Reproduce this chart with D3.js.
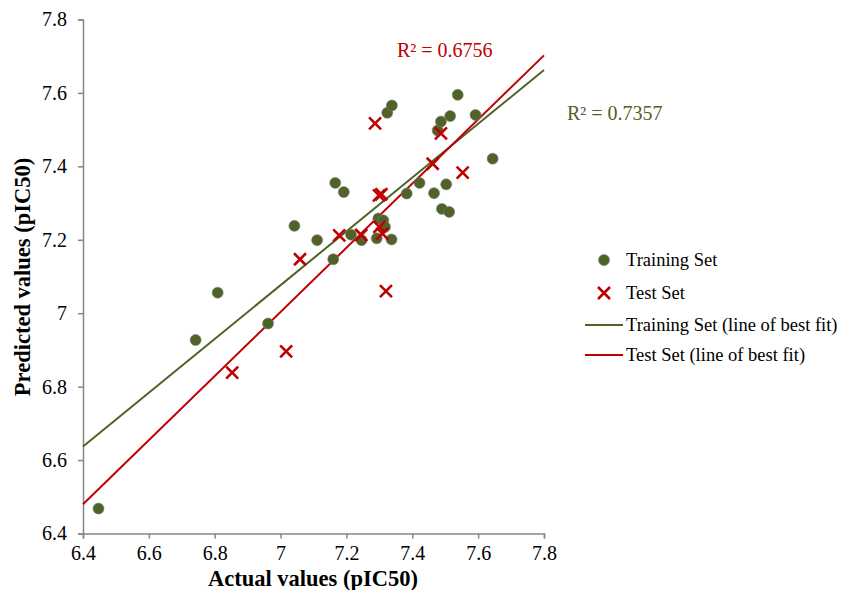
<!DOCTYPE html>
<html>
<head>
<meta charset="utf-8">
<script src="https://cdn.jsdelivr.net/npm/d3@7/dist/d3.min.js"></script>
<style>
  body { margin: 0; background: #fff; }
  svg { display: block; }
  text { font-family: "Liberation Serif", "Times New Roman", serif; }
</style>
</head>
<body>
<svg id="chart" width="841" height="590"></svg>
<script>
// ---- data ----
const trainActual = [6.447, 6.742, 6.809, 6.962, 7.042, 7.111, 7.160, 7.166, 7.192, 7.214,
                     7.246, 7.292, 7.297, 7.312, 7.317, 7.337, 7.324, 7.338, 7.383, 7.422,
                     7.466, 7.477, 7.487, 7.490, 7.503, 7.512, 7.515, 7.538, 7.592, 7.644];
const trainPred   = [6.468, 6.927, 7.056, 6.972, 7.238, 7.199, 7.147, 7.355, 7.330, 7.214,
                     7.199, 7.204, 7.258, 7.253, 7.235, 7.201, 7.546, 7.566, 7.326, 7.355,
                     7.327, 7.498, 7.522, 7.284, 7.351, 7.276, 7.537, 7.595, 7.540, 7.421];
const testActual  = [6.853, 7.017, 7.059, 7.178, 7.245, 7.287, 7.299, 7.306, 7.300, 7.309,
                     7.320, 7.462, 7.487, 7.553];
const testPred    = [6.838, 6.896, 7.147, 7.212, 7.213, 7.517, 7.321, 7.324, 7.235, 7.217,
                     7.060, 7.407, 7.490, 7.383];
const xTicks = [6.4, 6.6, 6.8, 7.0, 7.2, 7.4, 7.6, 7.8];
const yTicks = [6.4, 6.6, 6.8, 7.0, 7.2, 7.4, 7.6, 7.8];
const r2Labels = ["R² = 0.7357", "R² = 0.6756"];
const legendLabels = ["Training Set", "Test Set", "Training Set (line of best fit)", "Test Set (line of best fit)"];
const xTitle = "Actual values (pIC50)";
const yTitle = "Predicted values (pIC50)";

// ---- styles ----
const GREEN = "#4f6228", RED = "#c00000", AXIS = "#868686";

const svg = d3.select("#chart");
const L = 83, R = 544, T = 19.5, B = 533.5;
const x = d3.scaleLinear().domain([6.4, 7.8]).range([L, R]);
const y = d3.scaleLinear().domain([6.4, 7.8]).range([B, T]);

function fit(xs, ys) {
  const mx = d3.mean(xs), my = d3.mean(ys);
  let sxy = 0, sxx = 0;
  xs.forEach((v, i) => { sxy += (v - mx) * (ys[i] - my); sxx += (v - mx) ** 2; });
  const b = sxy / sxx;
  return { b, a: my - b * mx };
}
const trainFit = fit(trainActual, trainPred);
const testFit = fit(testActual, testPred);

// axes
const fmt = d => String(+d.toFixed(1));
const xAxis = svg.append("g").attr("transform", `translate(0,${B})`)
  .call(d3.axisBottom(x).tickValues(xTicks).tickSize(5).tickPadding(5).tickFormat(fmt));
const yAxis = svg.append("g").attr("transform", `translate(${L},0)`)
  .call(d3.axisLeft(y).tickValues(yTicks).tickSize(5).tickPadding(11).tickFormat(fmt));
[xAxis, yAxis].forEach(g => {
  g.select(".domain").attr("stroke", AXIS).attr("stroke-width", 1.5);
  g.selectAll(".tick line").attr("stroke", AXIS).attr("stroke-width", 1.5);
  g.selectAll(".tick text").attr("fill", "#000").style("font-size", "20px")
    .style("font-family", '"Liberation Serif", serif');
});
xAxis.selectAll(".tick text").attr("dy", "0.8em");

// fit lines
const lineGen = d3.line().x(d => x(d[0])).y(d => y(d[1]));
function fitPts(f) { return [6.4, 7.8].map(v => [v, f.a + f.b * v]); }
svg.append("path").attr("d", lineGen(fitPts(trainFit)))
  .attr("stroke", GREEN).attr("stroke-width", 2).attr("fill", "none");
svg.append("path").attr("d", lineGen(fitPts(testFit)))
  .attr("stroke", RED).attr("stroke-width", 2).attr("fill", "none");

// training points
svg.append("g").selectAll("circle").data(trainActual.map((v, i) => [v, trainPred[i]]))
  .join("circle")
  .attr("cx", d => x(d[0])).attr("cy", d => y(d[1])).attr("r", 5.5)
  .attr("fill", GREEN).attr("stroke", "#7a7a7a").attr("stroke-width", 0.6);

// test points (crosses)
const cs = 6;
function crossPath(cx, cy) {
  return `M${cx - cs},${cy - cs}L${cx + cs},${cy + cs}M${cx - cs},${cy + cs}L${cx + cs},${cy - cs}`;
}
svg.append("g").selectAll("path").data(testActual.map((v, i) => [v, testPred[i]]))
  .join("path")
  .attr("d", d => crossPath(x(d[0]), y(d[1])))
  .attr("stroke", RED).attr("stroke-width", 2.6).attr("fill", "none");

// R² labels
svg.append("text").attr("x", 567).attr("y", 120).attr("fill", GREEN)
  .style("font-size", "20px").text(r2Labels[0]);
svg.append("text").attr("x", 397).attr("y", 57).attr("fill", RED)
  .style("font-size", "20px").text(r2Labels[1]);

// axis titles
svg.append("text").attr("x", 313).attr("y", 586).attr("text-anchor", "middle")
  .style("font-size", "22.5px").style("font-weight", "bold").text(xTitle);
svg.append("text").attr("transform", "translate(30,277) rotate(-90)").attr("text-anchor", "middle")
  .style("font-size", "22.5px").style("font-weight", "bold").text(yTitle);

// legend
const lg = svg.append("g");
const ly = [260, 293, 325, 355];
lg.append("circle").attr("cx", 604).attr("cy", ly[0]).attr("r", 5.5)
  .attr("fill", GREEN).attr("stroke", "#7a7a7a").attr("stroke-width", 0.6);
lg.append("path").attr("d", crossPath(604, ly[1])).attr("stroke", RED)
  .attr("stroke-width", 2.6).attr("fill", "none");
lg.append("line").attr("x1", 585).attr("x2", 623).attr("y1", ly[2]).attr("y2", ly[2])
  .attr("stroke", GREEN).attr("stroke-width", 2);
lg.append("line").attr("x1", 585).attr("x2", 623).attr("y1", ly[3]).attr("y2", ly[3])
  .attr("stroke", RED).attr("stroke-width", 2);
lg.selectAll("text.lbl").data(legendLabels).join("text").attr("class", "lbl")
  .attr("x", 626).attr("y", (d, i) => ly[i]).attr("dy", "0.35em")
  .style("font-size", "18.5px").attr("fill", "#000").text(d => d);
</script>
</body>
</html>
